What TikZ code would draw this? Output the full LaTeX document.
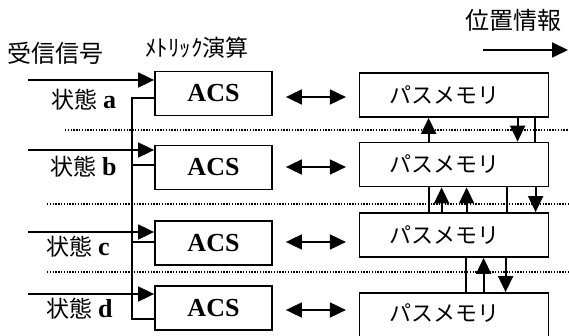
\documentclass[tikz,border=0pt]{standalone}
\usepackage{fontspec}
\setmainfont{Liberation Serif}
\newfontfamily\cjk{Noto Sans CJK JP}
\usetikzlibrary{arrows.meta,calc}
\begin{document}
\begin{tikzpicture}[x=1pt,y=-1pt,
  line width=1.8pt,
  >={Triangle[length=16pt,width=15pt]},
  acsbox/.style={draw, minimum width=117pt, minimum height=44pt, inner sep=0pt,
    font=\fontsize{26}{26}\selectfont\bfseries},
  pmbox/.style={draw, minimum width=189pt, minimum height=44pt, inner sep=0pt,
    font=\cjk\fontsize{22}{22}\selectfont},
  cjklabel/.style={inner sep=0pt, font=\cjk\fontsize{24}{24}\selectfont},
  statelabel/.style={anchor=west, inner sep=0pt, font=\cjk\fontsize{23}{23}\selectfont},
  dotline/.style={line width=1.2pt, dash pattern=on 1.4pt off 1.4pt}]
\useasboundingbox (0,0) rectangle (569,336);
\clip (0,0) rectangle (569,336);
\fill[white] (0,0) rectangle (569,336);

% dotted separators
\draw[dotline] (65,130) -- (569,130);
\draw[dotline] (47,204) -- (569,204);
\draw[dotline] (47,272) -- (569,272);

% titles
\node[cjklabel] (recv) at (55,53) {受信信号};
\node[inner sep=0pt, font=\cjk\fontsize{23}{23}\selectfont] (metric) at (197,48) {ﾒﾄﾘｯｸ演算};
\node[cjklabel] (pos) at (513,20) {位置情報};
\coordinate (posS) at (483,50);
\coordinate (posE) at (568,50);
\draw[->] (posS) -- (posE);

% ACS boxes
\node[acsbox] (acsA) at (213.5,93.5) {ACS};
\node[acsbox] (acsB) at (213.5,167.5) {ACS};
\node[acsbox] (acsC) at (213.5,243) {ACS};
\node[acsbox] (acsD) at (213.5,308) {ACS};

% path memory boxes
\node[pmbox] (pmA) at (454,95) {\kern-20pt パスメモリ};
\node[pmbox] (pmB) at (454,164.5) {\kern-20pt パスメモリ};
\node[pmbox] (pmC) at (454,235) {\kern-20pt パスメモリ};
\node[pmbox] (pmD) at (454,315) {\kern-20pt \raisebox{4pt}{パスメモリ}};

% state labels
\node[statelabel] (stA) at (51,100) {状態 {\rmfamily\bfseries\fontsize{26}{26}\selectfont a}};
\node[statelabel] (stB) at (50,167) {状態 {\rmfamily\bfseries\fontsize{26}{26}\selectfont b}};
\node[statelabel] (stC) at (46,247) {状態 {\rmfamily\bfseries\fontsize{26}{26}\selectfont c}};
\node[statelabel] (stD) at (46,309) {状態 {\rmfamily\bfseries\fontsize{26}{26}\selectfont d}};

% received signal inputs
\coordinate (inA) at (28,80);
\coordinate (inB) at (28,150);
\coordinate (inC) at (28,232);
\coordinate (inD) at (28,294);
\draw[->] (inA) -- (inA -| acsA.west);
\draw[->] (inB) -- (inB -| acsB.west);
\draw[->] (inC) -- (inC -| acsC.west);
\draw[->] (inD) -- (inD -| acsD.west);

% feedback bus
\coordinate (fbA) at (132,98);
\coordinate (fbB) at (132,165);
\coordinate (fbC) at (132,242);
\coordinate (fbD) at (132,319);
\draw (fbA -| acsA.west) -- (fbA) -- (fbD) -- (fbD -| acsD.west);
\draw (fbB) -- (fbB -| acsB.west);
\draw (fbC) -- (fbC -| acsC.west);

% ACS <-> path memory
\draw[<->] ($(acsA.east)+(13,3.5)$) -- ($(acsA.east)+(73,3.5)$);
\draw[<->] ($(acsB.east)+(13,-0.5)$) -- ($(acsB.east)+(73,-0.5)$);
\draw[<->] ($(acsC.east)+(13,-1)$) -- ($(acsC.east)+(73,-1)$);
\draw[<->] ($(acsD.east)+(13,2)$) -- ($(acsD.east)+(73,2)$);

% between path memories a and b
\draw[->] ($(pmB.north west)+(70,0)$) -- ($(pmA.south west)+(70,0)$);
\draw[->] ($(pmA.south west)+(159,0)$) -- ($(pmB.north west)+(159,0)$);
\draw ($(pmA.south west)+(176,0)$) -- ($(pmB.north west)+(176,0)$);

% between b and c
\draw ($(pmB.south west)+(70,0)$) -- ($(pmC.north west)+(70,0)$);
\draw[->] ($(pmC.north west)+(83,0)$) -- ($(pmB.south west)+(83,0)$);
\draw[->] ($(pmC.north west)+(108,0)$) -- ($(pmB.south west)+(108,0)$);
\draw ($(pmB.south west)+(148,0)$) -- ($(pmC.north west)+(148,0)$);
\draw[->] ($(pmB.south west)+(177,0)$) -- ($(pmC.north west)+(177,0)$);

% between c and d
\draw ($(pmC.south west)+(107,0)$) -- ($(pmD.north west)+(107,0)$);
\draw[->] ($(pmD.north west)+(125,0)$) -- ($(pmC.south west)+(125,0)$);
\draw[->] ($(pmC.south west)+(147,0)$) -- ($(pmD.north west)+(147,0)$);
\end{tikzpicture}
\end{document}
